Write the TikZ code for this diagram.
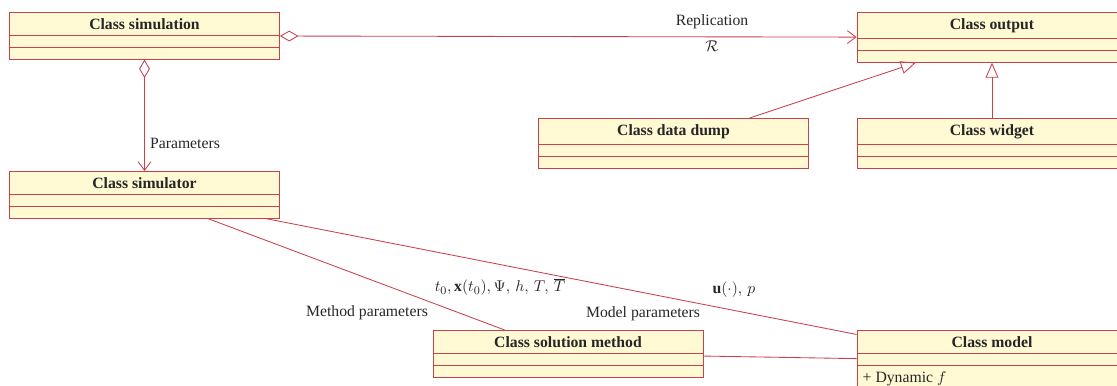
\documentclass[tikz,border=0pt]{standalone}
\usepackage{fontspec}
\setmainfont{Liberation Serif}
\usepackage{xcolor}
\usepackage{tikz}
\usetikzlibrary{shapes.multipart, arrows.meta, positioning}
\definecolor{umlred}{RGB}{200,66,78}
\definecolor{umlyellow}{RGB}{255,249,212}
\newcommand{\umlnone}{\rule{0pt}{0.01pt}}
\tikzstyle{umlclass} = [rectangle split, rectangle split parts=3, draw=umlred, fill=umlyellow, line width=0.6pt, minimum width=189pt, inner xsep=4pt, inner ysep=3.85pt, rectangle split part align={center,left,left}, anchor=north, text=black!85, font=\fontsize{11}{13}\selectfont]
\tikzstyle{assoc} = [draw=umlred, line width=0.6pt]
\tikzstyle{edgetext} = [font=\fontsize{11}{13}\selectfont, text=black!85, inner sep=1pt]

\begin{document}
\begin{tikzpicture}[x=0.7pt, y=-0.7pt]
\useasboundingbox (0,0) rectangle (1117,386);

% classes
\node[umlclass] (simulation) at (144.5,12) {\textbf{Class simulation}\nodepart{second}\umlnone\nodepart{third}\umlnone};
\node[umlclass] (output) at (992,12) {\textbf{Class output}\nodepart{second}\umlnone\nodepart{third}\umlnone};
\node[umlclass] (datadump) at (673.5,118) {\textbf{Class data dump}\nodepart{second}\umlnone\nodepart{third}\umlnone};
\node[umlclass] (widget) at (992,118) {\textbf{Class widget}\nodepart{second}\umlnone\nodepart{third}\umlnone};
\node[umlclass] (simulator) at (144.5,171) {\textbf{Class simulator}\nodepart{second}\umlnone\nodepart{third}\umlnone};
\node[umlclass] (solution) at (568,330) {\textbf{Class solution method}\nodepart{second}\umlnone\nodepart{third}\umlnone};
\node[umlclass] (model) at (992,330) {\textbf{Class model}\nodepart{second}\umlnone\nodepart{third}+ Dynamic $f$};

% labels
\node[edgetext] (replication) at (712,22) {Replication};
\node[edgetext] (replsym) at (712,46) {$\mathcal{R}$};
\node[edgetext] (params) at (185,143) {Parameters};
\node[edgetext] (methodargs) at (500,287) {$t_0, \mathbf{x}(t_0), \Psi,\, h,\, T,\, \overline{T}$};
\node[edgetext] (methodparams) at (367,313) {Method parameters};
\node[edgetext] (modelparams) at (643,314) {Model parameters};
\node[edgetext] (modelargs) at (734,290) {$\mathbf{u}(\cdot),\, p$};

% aggregation
\draw[assoc, {Diamond[open,length=13pt,width=7.5pt]}-{Straight Barb[length=6pt,width=9pt]}]
(simulation) -- (output);
\draw[assoc, {Diamond[open,length=13pt,width=7.5pt]}-{Straight Barb[length=6pt,width=9pt]}]
(simulation) -- (simulator);

% inheritance
\draw[assoc, -{Triangle[open,length=10.5pt,width=9pt]}] (datadump) -- (output);
\draw[assoc, -{Triangle[open,length=10.5pt,width=9pt]}] (widget) -- (output);

% associations
\draw[assoc] (simulator) -- (solution);
\draw[assoc] (simulator) -- (model);
\draw[assoc] (solution) -- (model);
\end{tikzpicture}
\end{document}
